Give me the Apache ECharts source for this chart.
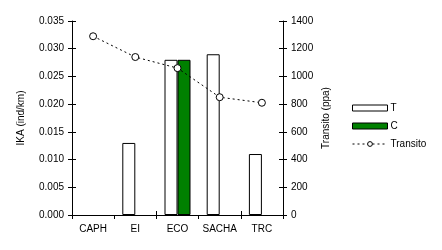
<!DOCTYPE html>
<html><head><meta charset="utf-8">
<script src="https://cdn.jsdelivr.net/npm/echarts@6/dist/echarts.min.js"></script>
<style>html,body{margin:0;padding:0;background:#fff}#c{width:442px;height:250px}</style>
</head><body><div id="c"></div>
<script>
const categories = ['CAPH', 'EI', 'ECO', 'SACHA', 'TRC'];
const seriesT = [null, 0.013, 0.028, 0.029, 0.011];
const seriesC = [null, null, 0.028, null, null];
const transito = [1290, 1140, 1060, 850, 810];
const leftTicks = [0, 0.005, 0.01, 0.015, 0.02, 0.025, 0.03, 0.035];
const rightTicks = [0, 200, 400, 600, 800, 1000, 1200, 1400];

const font = 'Liberation Sans, Arial, sans-serif';
const chart = echarts.init(document.getElementById('c'), null, {renderer: 'canvas'});
const axisLine = {show: true, lineStyle: {color: '#000', width: 1}};
chart.setOption({
  animation: false,
  backgroundColor: '#fff',
  textStyle: {fontFamily: font, color: '#000', fontSize: 10},
  grid: {left: 72, right: 159, top: 21, bottom: 35},
  legend: {
    orient: 'vertical', left: 347, top: 98, itemWidth: 35, itemHeight: 6, itemGap: 8,
    textStyle: {fontFamily: font, fontSize: 10, color: '#000', padding: [0, 0, 0, -2]},
    data: [
      {name: 'T', icon: 'rect', itemStyle: {borderWidth: 1}},
      {name: 'C', icon: 'rect', itemStyle: {borderWidth: 1}},
      {name: 'Transito', itemStyle: {borderWidth: 1}, lineStyle: {width: 1}}
    ]
  },
  xAxis: [{
    type: 'category', data: categories, boundaryGap: true,
    axisLine: axisLine,
    axisTick: {show: true, length: 4, lineStyle: {color: '#000'}},
    axisLabel: {margin: 9, color: '#000', fontSize: 10, fontFamily: font, interval: 0},
    splitLine: {show: false}
  }, {
    type: 'category', data: categories, boundaryGap: true, position: 'bottom',
    axisLine: {show: false},
    axisTick: {show: true, inside: true, length: 4, lineStyle: {color: '#000'}},
    axisLabel: {show: false}, splitLine: {show: false}
  }],
  yAxis: [{
    type: 'value', min: 0, max: 0.035, interval: 0.005, position: 'left',
    name: 'IKA (ind/km)', nameLocation: 'middle', nameGap: 46,
    nameTextStyle: {fontSize: 10, color: '#000', fontFamily: font},
    axisLine: axisLine,
    axisTick: {show: true, length: 4, lineStyle: {color: '#000'}},
    axisLabel: {margin: 8, color: '#000', fontSize: 10, fontFamily: font,
      formatter: v => v.toFixed(3)},
    splitLine: {show: false}
  }, {
    type: 'value', min: 0, max: 1400, interval: 200, position: 'right',
    name: 'Transito (ppa)', nameLocation: 'middle', nameGap: 38,
    nameTextStyle: {fontSize: 10, color: '#000', fontFamily: font},
    axisLine: axisLine,
    axisTick: {show: true, length: 4, lineStyle: {color: '#000'}},
    axisLabel: {margin: 8, color: '#000', fontSize: 10, fontFamily: font,
      formatter: v => String(v)},
    splitLine: {show: false}
  }, {
    type: 'value', min: 0, max: 0.035, interval: 0.005, position: 'left',
    axisLine: {show: false},
    axisTick: {show: true, inside: true, length: 4, lineStyle: {color: '#000'}},
    axisLabel: {show: false}, splitLine: {show: false}
  }, {
    type: 'value', min: 0, max: 1400, interval: 200, position: 'right',
    axisLine: {show: false},
    axisTick: {show: true, inside: true, length: 4, lineStyle: {color: '#000'}},
    axisLabel: {show: false}, splitLine: {show: false}
  }],
  series: [{
    name: 'T', type: 'bar', data: seriesT, barWidth: 13, barGap: '0%',
    itemStyle: {color: '#fff', borderColor: '#000', borderWidth: 1}
  }, {
    name: 'C', type: 'bar', data: seriesC, barWidth: 13, barGap: '0%',
    itemStyle: {color: '#008000', borderColor: '#000', borderWidth: 1}
  }, {
    name: 'Transito', type: 'line', yAxisIndex: 1, data: transito,
    symbol: 'circle', symbolSize: 7, z: 5,
    lineStyle: {color: '#000', width: 1, type: [2, 3]},
    itemStyle: {color: '#fff', borderColor: '#000', borderWidth: 1}
  }]
});
</script></body></html>
